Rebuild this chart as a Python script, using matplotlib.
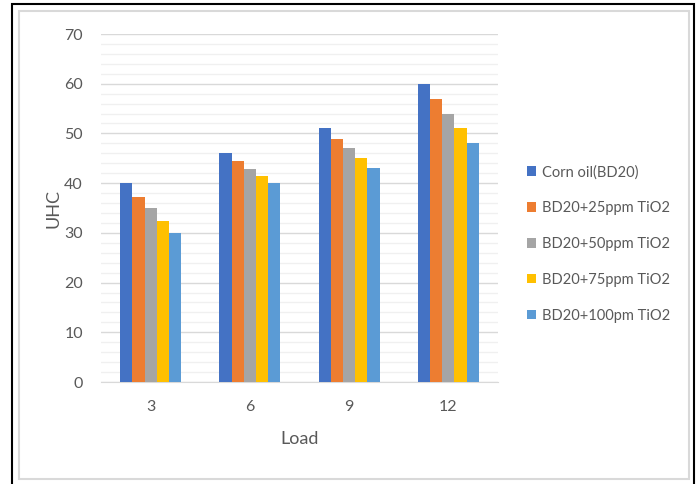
import numpy as np
import matplotlib.pyplot as plt
from matplotlib.patches import Rectangle
from matplotlib.ticker import MultipleLocator

plt.rcParams['font.family'] = ['Lato', 'DejaVu Sans']

# Data
loads = ['3', '6', '9', '12']
series_names = ['Corn oil(BD20)', 'BD20+25ppm TiO2', 'BD20+50ppm TiO2',
                'BD20+75ppm TiO2', 'BD20+100pm TiO2']
corn_oil = [40, 46, 51, 60]
ppm25 = [37.3, 44.4, 48.9, 57]
ppm50 = [35, 42.8, 47, 54]
ppm75 = [32.3, 41.5, 45, 51]
ppm100 = [30, 40, 43, 48]
values = [corn_oil, ppm25, ppm50, ppm75, ppm100]
colors = ['#4472C4', '#ED7D31', '#A5A5A5', '#FFC000', '#5B9BD5']

W, H = 699, 484
fig = plt.figure(figsize=(W / 100, H / 100), dpi=100)

# outer frame (black) and inner chart border (light gray)
fig.patches.append(Rectangle((12 / W, -0.01), 682 / W, 1 - 4 / H + 0.01,
                             transform=fig.transFigure, fill=False,
                             edgecolor='black', linewidth=1.5))
fig.patches.append(Rectangle((19 / W, 1 - 479 / H), 670 / W, 468 / H,
                             transform=fig.transFigure, fill=False,
                             edgecolor='#D9D9D9', linewidth=1.5))

ax = fig.add_axes([101 / W, 1 - 382 / H, 397 / W, 348 / H])

x = np.arange(len(loads))
bw = 0.123
for i, (name, vals, c) in enumerate(zip(series_names, values, colors)):
    ax.bar(x + (i - 2) * bw, vals, width=bw, color=c, label=name, zorder=3)

ax.set_xlim(-0.5, len(loads) - 0.5)
ax.set_ylim(0, 70)
ax.yaxis.set_major_locator(MultipleLocator(10))
ax.yaxis.set_minor_locator(MultipleLocator(2))
ax.grid(axis='y', which='major', color='#D9D9D9', linewidth=1, zorder=0)
ax.grid(axis='y', which='minor', color='#F0F0F0', linewidth=1, zorder=0)
ax.set_xticks(x)
ax.set_xticklabels(loads)
ax.tick_params(axis='both', which='both', length=0, labelsize=11.5,
               labelcolor='#595959')
ax.tick_params(axis='y', pad=13)
ax.tick_params(axis='x', pad=13)
for s in ['top', 'right', 'left']:
    ax.spines[s].set_visible(False)
ax.spines['bottom'].set_color('#D9D9D9')

ax.set_ylabel('UHC', fontsize=13, color='#595959', labelpad=2)
ax.set_xlabel('Load', fontsize=13, color='#595959', labelpad=12)

ax.legend(loc='center left', bbox_to_anchor=(1.04, 0.397), frameon=False,
          fontsize=10.5, labelcolor='#595959', handlelength=0.6,
          handleheight=0.6, handletextpad=0.4, labelspacing=1.5)

plt.savefig('out.png', dpi=100)
